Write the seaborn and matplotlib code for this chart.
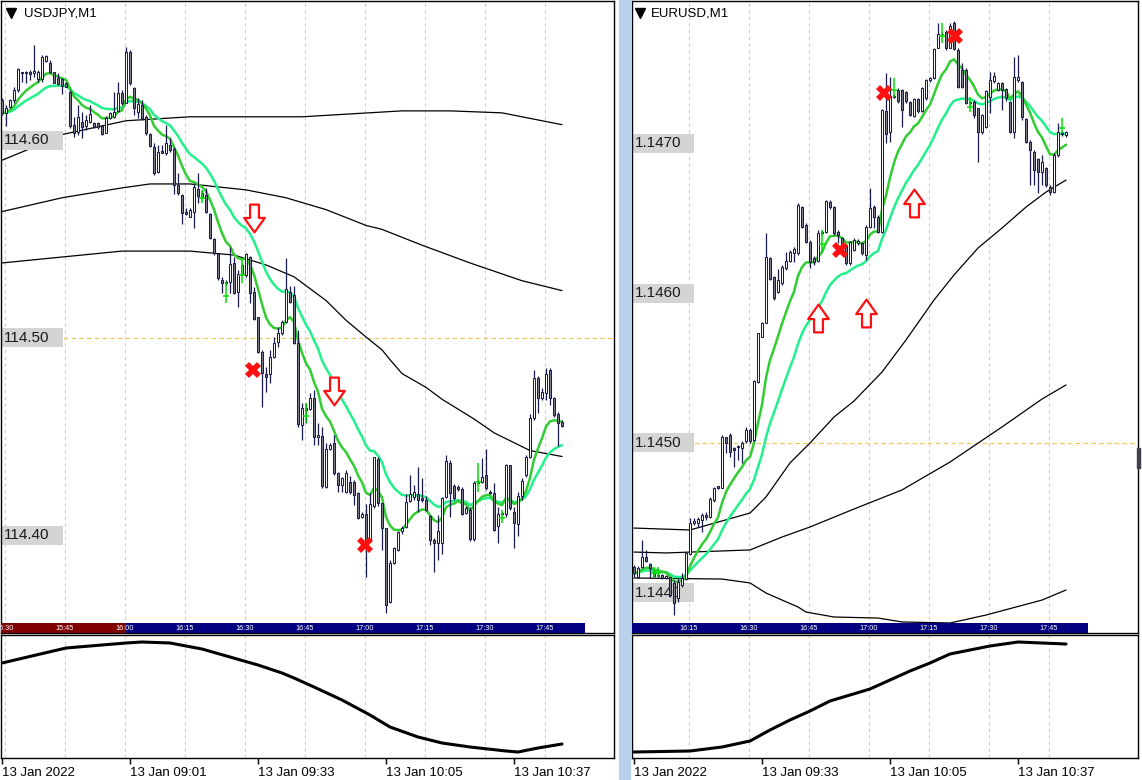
import numpy as np
import pandas as pd
import matplotlib
matplotlib.use("Agg")
import matplotlib.pyplot as plt
import matplotlib.transforms as mtransforms
from matplotlib.patches import Rectangle
from matplotlib.path import Path
import seaborn as sns

sns.set_style("white")
plt.rcParams["font.family"] = ["Liberation Sans", "DejaVu Sans"]

# =========================
# USDJPY M1 candles
# =========================
jpy_open = [114.6205, 114.6141, 114.6171, 114.6205, 114.6256, 114.6349, 114.6340, 114.6349, 114.6340, 114.6310,
            114.6310, 114.6404, 114.6391, 114.6349, 114.6315, 114.6310, 114.6293, 114.6247, 114.6079, 114.6045,
            114.6095, 114.6074, 114.6095, 114.6090, 114.6087, 114.6074, 114.6040, 114.6112, 114.6121, 114.6151,
            114.6242, 114.6192, 114.6450, 114.6264, 114.6146, 114.6180, 114.6117, 114.6033, 114.5969, 114.5842,
            114.5948, 114.5935, 114.5977, 114.5955, 114.5775, 114.5724, 114.5640, 114.5614, 114.5640, 114.5753,
            114.5733, 114.5724, 114.5628, 114.5500, 114.5425, 114.5294, 114.5280, 114.5285, 114.5381, 114.5235,
            114.5324, 114.5319, 114.5412, 114.5235, 114.5105, 114.4927, 114.4818, 114.4818, 114.4905, 114.4981,
            114.5027, 114.5083, 114.5235, 114.5218, 114.4976, 114.4559, 114.4644, 114.4639, 114.4694, 114.4497,
            114.4504, 114.4244, 114.4436, 114.4467, 114.4318, 114.4256, 114.4222, 114.4272, 114.4272, 114.4213,
            114.4095, 114.4109, 114.3980, 114.4149, 114.4386, 114.4163, 114.4036, 114.3665, 114.3859, 114.3926,
            114.4024, 114.4045, 114.4176, 114.4197, 114.4210, 114.4192, 114.4180, 114.4099, 114.3977, 114.3964,
            114.3964, 114.4196, 114.4365, 114.4250, 114.4247, 114.4234, 114.4116, 114.4129, 114.3980, 114.4267,
            114.4272, 114.4306, 114.4222, 114.4217, 114.4048, 114.4109, 114.4109, 114.4357, 114.4121, 114.4058,
            114.4200, 114.4306, 114.4396, 114.4593, 114.4796, 114.4694, 114.4723, 114.4838, 114.4694, 114.4615,
            114.4576]
jpy_high = [114.6214, 114.6180, 114.6209, 114.6273, 114.6366, 114.6349, 114.6354, 114.6357, 114.6484, 114.6357,
            114.6433, 114.6433, 114.6408, 114.6349, 114.6340, 114.6315, 114.6298, 114.6256, 114.6121, 114.6180,
            114.6146, 114.6129, 114.6180, 114.6095, 114.6095, 114.6079, 114.6124, 114.6146, 114.6247, 114.6298,
            114.6256, 114.6475, 114.6458, 114.6273, 114.6214, 114.6205, 114.6129, 114.6036, 114.5986, 114.5977,
            114.5977, 114.6079, 114.6011, 114.5969, 114.5834, 114.5729, 114.5656, 114.5656, 114.5783, 114.5834,
            114.5749, 114.5758, 114.5631, 114.5505, 114.5429, 114.5311, 114.5294, 114.5462, 114.5412, 114.5344,
            114.5378, 114.5429, 114.5415, 114.5260, 114.5108, 114.4939, 114.4855, 114.4939, 114.5007, 114.5057,
            114.5091, 114.5403, 114.5263, 114.5263, 114.5040, 114.4669, 114.4673, 114.4720, 114.4737, 114.4568,
            114.4551, 114.4467, 114.4467, 114.4509, 114.4323, 114.4298, 114.4332, 114.4300, 114.4281, 114.4222,
            114.4120, 114.4159, 114.4213, 114.4399, 114.4399, 114.4163, 114.4036, 114.3876, 114.3943, 114.4025,
            114.4050, 114.4210, 114.4306, 114.4256, 114.4348, 114.4289, 114.4200, 114.4104, 114.3986, 114.4104,
            114.4196, 114.4408, 114.4382, 114.4260, 114.4255, 114.4245, 114.4150, 114.4145, 114.4275, 114.4285,
            114.4391, 114.4436, 114.4230, 114.4264, 114.4146, 114.4120, 114.4362, 114.4357, 114.4146, 114.4222,
            114.4289, 114.4408, 114.4615, 114.4838, 114.4808, 114.4745, 114.4846, 114.4846, 114.4699, 114.4627,
            114.4585]
jpy_low = [114.6129, 114.6074, 114.6163, 114.6188, 114.6247, 114.6298, 114.6293, 114.6306, 114.6323, 114.6298,
           114.6298, 114.6399, 114.6340, 114.6290, 114.6281, 114.6236, 114.6269, 114.6062, 114.6019, 114.6028,
           114.6011, 114.6053, 114.6087, 114.6062, 114.6057, 114.6028, 114.6036, 114.6107, 114.6112, 114.6146,
           114.6180, 114.6188, 114.6281, 114.6129, 114.6112, 114.6104, 114.6028, 114.5969, 114.5825, 114.5834,
           114.5935, 114.5927, 114.5943, 114.5729, 114.5724, 114.5577, 114.5623, 114.5611, 114.5555, 114.5682,
           114.5705, 114.5631, 114.5500, 114.5420, 114.5294, 114.5226, 114.5270, 114.5226, 114.5223, 114.5159,
           114.5315, 114.5311, 114.5176, 114.5091, 114.4922, 114.4652, 114.4728, 114.4770, 114.4897, 114.4956,
           114.5015, 114.5074, 114.5176, 114.4970, 114.4551, 114.4483, 114.4571, 114.4635, 114.4458, 114.4458,
           114.4239, 114.4239, 114.4433, 114.4306, 114.4222, 114.4222, 114.4213, 114.4210, 114.4154, 114.4082,
           114.4090, 114.3788, 114.3977, 114.4137, 114.4150, 114.3926, 114.3606, 114.3656, 114.3856, 114.3920,
           114.4010, 114.4040, 114.4171, 114.4180, 114.4121, 114.4171, 114.4125, 114.3952, 114.3817, 114.3876,
           114.3906, 114.4188, 114.4095, 114.4180, 114.4225, 114.4104, 114.4110, 114.3970, 114.3970, 114.4260,
           114.4267, 114.4230, 114.4210, 114.4024, 114.3964, 114.4104, 114.4095, 114.4129, 114.3935, 114.3997,
           114.4180, 114.4298, 114.4391, 114.4585, 114.4619, 114.4686, 114.4686, 114.4661, 114.4602, 114.4453,
           114.4548]
jpy_close = [114.6138, 114.6163, 114.6205, 114.6256, 114.6360, 114.6340, 114.6349, 114.6335, 114.6352, 114.6349,
             114.6425, 114.6428, 114.6349, 114.6293, 114.6285, 114.6276, 114.6273, 114.6074, 114.6036, 114.6121,
             114.6067, 114.6104, 114.6134, 114.6070, 114.6067, 114.6033, 114.6112, 114.6141, 114.6146, 114.6242,
             114.6188, 114.6450, 114.6290, 114.6163, 114.6185, 114.6112, 114.6036, 114.5972, 114.5837, 114.5943,
             114.5938, 114.5986, 114.5952, 114.5775, 114.5733, 114.5635, 114.5628, 114.5648, 114.5766, 114.5721,
             114.5716, 114.5640, 114.5505, 114.5429, 114.5302, 114.5280, 114.5285, 114.5375, 114.5226, 114.5324,
             114.5370, 114.5424, 114.5226, 114.5094, 114.4927, 114.4821, 114.4804, 114.4905, 114.4976, 114.5027,
             114.5083, 114.5246, 114.5184, 114.4973, 114.4564, 114.4644, 114.4635, 114.4694, 114.4497, 114.4509,
             114.4250, 114.4436, 114.4458, 114.4315, 114.4256, 114.4293, 114.4315, 114.4222, 114.4205, 114.4087,
             114.4109, 114.3977, 114.4159, 114.4396, 114.4166, 114.4036, 114.3648, 114.3859, 114.3935, 114.4019,
             114.4036, 114.4171, 114.4210, 114.4218, 114.4180, 114.4180, 114.4129, 114.3977, 114.3964, 114.4024,
             114.4188, 114.4379, 114.4213, 114.4188, 114.4234, 114.4109, 114.4141, 114.3980, 114.4267, 114.4272,
             114.4298, 114.4239, 114.4213, 114.4028, 114.4109, 114.4116, 114.4357, 114.4137, 114.4065, 114.4200,
             114.4278, 114.4396, 114.4593, 114.4796, 114.4694, 114.4728, 114.4818, 114.4694, 114.4610, 114.4568,
             114.4554]

# long averages on USDJPY (black lines), sampled along the chart
jpy_band_a_idx = [0, 6, 15, 31, 47, 75, 100, 112, 125, 140]
jpy_band_a = [114.590, 114.595, 114.603, 114.610, 114.612, 114.612, 114.615, 114.615, 114.614, 114.608]
jpy_band_b_idx = [0, 15, 30, 37, 47, 61, 71, 81, 91, 95, 105, 117, 130, 140]
jpy_band_b = [114.564, 114.571, 114.576, 114.578, 114.578, 114.575, 114.571, 114.565, 114.557, 114.555,
              114.547, 114.538, 114.529, 114.524]
jpy_band_c_idx = [0, 15, 30, 47, 58, 66, 73, 81, 86, 91, 95, 97, 100, 106, 110, 118, 123, 128, 132, 140]
jpy_band_c = [114.538, 114.541, 114.544, 114.544, 114.542, 114.537, 114.531, 114.519, 114.509, 114.5005,
              114.494, 114.489, 114.482, 114.475, 114.469, 114.459, 114.452, 114.447, 114.443, 114.440]

jpy_osc_idx = [0, 16, 31, 35, 42, 50, 57, 64, 70, 73, 78, 85, 92, 97, 104, 110, 117, 126, 129, 134, 140]
jpy_osc = [94, 109, 114, 115, 114, 108, 100, 92, 84, 79, 70, 57, 42, 30, 20, 14, 10, 6, 5, 9, 13]

jpy_sell_idx = [63, 83]
jpy_sell_px = [114.561, 114.473]
jpy_exit_idx = [62.75, 90.75]
jpy_exit_px = [114.4838, 114.3952]
jpy_tick_idx = [50, 56, 60, 76, 119, 125]
jpy_tick_lo = [114.5684, 114.5177, 114.5278, 114.4570, 114.4220, 114.4063]
jpy_tick_hi = [114.5749, 114.5284, 114.5395, 114.4671, 114.4367, 114.4129]

jpy_levels = [114.60, 114.50, 114.40]
jpy_bar_labels = ["15:30", "15:45", "16:00", "16:15", "16:30", "16:45", "17:00", "17:15", "17:30", "17:45"]
jpy_date_labels = ["13 Jan 2022", "13 Jan 09:01", "13 Jan 09:33", "13 Jan 10:05", "13 Jan 10:37"]

# =========================
# EURUSD M1 candles
# =========================
eur_open = [1.144176, 1.144109, 1.144176, 1.144243, 1.144194, 1.144131, 1.144114, 1.144120, 1.144098, 1.144109,
            1.144065, 1.143965, 1.144054, 1.144092, 1.144260, 1.144465, 1.144465, 1.144487, 1.144520, 1.144509,
            1.144620, 1.144714, 1.144703, 1.145043, 1.145054, 1.144965, 1.144972, 1.144965, 1.145010, 1.145087,
            1.145020, 1.145409, 1.145709, 1.145803, 1.146231, 1.146105, 1.146009, 1.146065, 1.146165, 1.146216,
            1.146265, 1.146265, 1.146576, 1.146454, 1.146343, 1.146231, 1.146216, 1.146403, 1.146409, 1.146609,
            1.146576, 1.146409, 1.146365, 1.146320, 1.146198, 1.146286, 1.146331, 1.146331, 1.146253, 1.146442,
            1.146575, 1.146509, 1.146409, 1.147213, 1.147071, 1.147315, 1.147353, 1.147353, 1.147337, 1.147271,
            1.147182, 1.147293, 1.147213, 1.147298, 1.147420, 1.147431, 1.147635, 1.147724, 1.147742, 1.147635,
            1.147797, 1.147620, 1.147486, 1.147486, 1.147264, 1.147271, 1.147231, 1.147071, 1.147109, 1.147309,
            1.147413, 1.147353, 1.147397, 1.147360, 1.147271, 1.147071, 1.147420, 1.147409, 1.147160, 1.147009,
            1.146942, 1.146893, 1.146809, 1.146831, 1.146709, 1.146675, 1.146920, 1.147070, 1.147053]
eur_high = [1.144187, 1.144180, 1.144354, 1.144287, 1.144198, 1.144150, 1.144130, 1.144125, 1.144120, 1.144109,
            1.144087, 1.144098, 1.144131, 1.144265, 1.144498, 1.144498, 1.144509, 1.144531, 1.144543, 1.144643,
            1.144709, 1.144714, 1.145054, 1.145043, 1.145065, 1.144976, 1.144987, 1.145010, 1.145105, 1.145098,
            1.145420, 1.145736, 1.145809, 1.146403, 1.146243, 1.146114, 1.146158, 1.146187, 1.146276, 1.146287,
            1.146309, 1.146598, 1.146580, 1.146465, 1.146354, 1.146247, 1.146420, 1.146420, 1.146620, 1.146620,
            1.146580, 1.146420, 1.146376, 1.146330, 1.146350, 1.146365, 1.146360, 1.146340, 1.146453, 1.146698,
            1.146586, 1.146520, 1.147230, 1.147464, 1.147442, 1.147330, 1.147364, 1.147360, 1.147346, 1.147280,
            1.147300, 1.147300, 1.147375, 1.147430, 1.147440, 1.147635, 1.147797, 1.147740, 1.147753, 1.147797,
            1.147813, 1.147631, 1.147531, 1.147497, 1.147280, 1.147286, 1.147235, 1.147191, 1.147353, 1.147475,
            1.147475, 1.147409, 1.147409, 1.147364, 1.147280, 1.147575, 1.147586, 1.147413, 1.147169, 1.147020,
            1.146953, 1.146902, 1.146920, 1.146842, 1.146720, 1.146931, 1.147131, 1.147080, 1.147080]
eur_low = [1.144109, 1.144100, 1.144165, 1.144209, 1.144098, 1.144105, 1.144105, 1.144095, 1.144095, 1.143976,
           1.143854, 1.143943, 1.144043, 1.144087, 1.144254, 1.144454, 1.144438, 1.144409, 1.144487, 1.144498,
           1.144609, 1.144695, 1.144698, 1.144932, 1.144909, 1.144843, 1.144887, 1.144865, 1.145003, 1.144998,
           1.145016, 1.145403, 1.145705, 1.145798, 1.146087, 1.145954, 1.145998, 1.146054, 1.146154, 1.146209,
           1.146209, 1.146254, 1.146431, 1.146336, 1.146165, 1.146187, 1.146209, 1.146390, 1.146398, 1.146560,
           1.146390, 1.146336, 1.146290, 1.146190, 1.146190, 1.146280, 1.146320, 1.146255, 1.146220, 1.146431,
           1.146431, 1.146400, 1.146400, 1.146998, 1.147004, 1.147300, 1.147270, 1.147109, 1.147270, 1.147182,
           1.147175, 1.147200, 1.147209, 1.147290, 1.147410, 1.147426, 1.147631, 1.147710, 1.147620, 1.147631,
           1.147620, 1.147364, 1.147369, 1.147257, 1.147250, 1.147164, 1.146875, 1.147058, 1.147102, 1.147198,
           1.147397, 1.147350, 1.147220, 1.147280, 1.147064, 1.147031, 1.147409, 1.147153, 1.146998, 1.146720,
           1.146720, 1.146664, 1.146720, 1.146709, 1.146653, 1.146664, 1.146909, 1.147050, 1.147040]
eur_close = [1.144131, 1.144169, 1.144243, 1.144216, 1.144165, 1.144114, 1.144120, 1.144098, 1.144116, 1.143987,
             1.143932, 1.144076, 1.144098, 1.144265, 1.144469, 1.144483, 1.144492, 1.144520, 1.144509, 1.144625,
             1.144703, 1.144698, 1.145038, 1.144998, 1.144943, 1.144954, 1.144980, 1.145003, 1.145087, 1.145010,
             1.145416, 1.145731, 1.145803, 1.146243, 1.146091, 1.145965, 1.146087, 1.146171, 1.146216, 1.146276,
             1.146291, 1.146587, 1.146438, 1.146343, 1.146209, 1.146209, 1.146403, 1.146410, 1.146616, 1.146571,
             1.146398, 1.146387, 1.146298, 1.146198, 1.146342, 1.146353, 1.146346, 1.146264, 1.146442, 1.146569,
             1.146509, 1.146409, 1.147220, 1.147058, 1.147315, 1.147309, 1.147280, 1.147220, 1.147280, 1.147186,
             1.147293, 1.147213, 1.147369, 1.147420, 1.147431, 1.147626, 1.147724, 1.147730, 1.147635, 1.147782,
             1.147626, 1.147375, 1.147375, 1.147264, 1.147271, 1.147186, 1.147071, 1.147186, 1.147346, 1.147420,
             1.147449, 1.147397, 1.147353, 1.147298, 1.147071, 1.147442, 1.147442, 1.147175, 1.147009, 1.146953,
             1.146820, 1.146804, 1.146875, 1.146720, 1.146675, 1.146920, 1.147071, 1.147060, 1.147071]

eur_band_a_idx = [0, 14, 29, 33, 39, 44, 50, 55, 62, 68, 75, 80, 86, 92, 98, 103, 108]
eur_band_a = [1.144433, 1.144420, 1.144533, 1.144640, 1.144867, 1.145000, 1.145173, 1.145280, 1.145473,
              1.145687, 1.145953, 1.146120, 1.146300, 1.146433, 1.146573, 1.146673, 1.146753]
eur_band_b_idx = [0, 8, 29, 37, 44, 55, 67, 79, 92, 102, 108]
eur_band_b = [1.144273, 1.144267, 1.144287, 1.144373, 1.144440, 1.144560, 1.144687, 1.144873, 1.145107,
              1.145293, 1.145387]
eur_band_c_idx = [0, 22, 29, 33, 37, 41, 43, 50, 61, 67, 79, 88, 102, 108]
eur_band_c = [1.144100, 1.144093, 1.144067, 1.144000, 1.143953, 1.143907, 1.143873, 1.143840, 1.143833,
              1.143807, 1.143800, 1.143853, 1.143953, 1.144020]

eur_osc_idx = [0, 14, 22, 29, 34, 39, 44, 49, 54, 59, 64, 69, 74, 79, 89, 96, 102, 108]
eur_osc = [5, 6, 10, 16, 27, 37, 46, 56, 62, 68, 77, 86, 94, 103, 111, 115, 114, 113]

eur_buy_idx = [46, 58, 70]
eur_buy_px = [1.145833, 1.145867, 1.146600]
eur_exit_idx = [51.5, 62.5, 80.25]
eur_exit_px = [1.146287, 1.147333, 1.147713]
eur_tick_idx = [5, 6, 47, 65, 77, 84, 107]
eur_tick_lo = [1.144107, 1.144107, 1.146273, 1.147307, 1.147667, 1.147207, 1.147067]
eur_tick_hi = [1.144173, 1.144173, 1.146420, 1.147433, 1.147800, 1.147307, 1.147167]

eur_levels = [1.1470, 1.1460, 1.1450, 1.1440]
eur_bar_labels = ["16:15", "16:30", "16:45", "17:00", "17:15", "17:30", "17:45"]
eur_date_labels = ["13 Jan 2022", "13 Jan 09:33", "13 Jan 10:05", "13 Jan 10:37"]

# =========================
# STYLE
# =========================
EDGE = "#1a1a4c"
BEAR = "#80808e"
GRID = "#cacae4"
FAST = "#32cd32"
SLOW = "#22f08a"
NAVY = "#000080"
MAROON = "#800000"

W, H = 1142, 780
fig = plt.figure(figsize=(W / 100, H / 100), dpi=100)
fig.patch.set_facecolor("white")


def px_axes(x0, y0, x1, y1):
    return fig.add_axes([x0 / W, 1 - y1 / H, (x1 - x0) / W, (y1 - y0) / H])


def frame(ax):
    ax.set_xticks([])
    ax.set_yticks([])
    for s in ax.spines.values():
        s.set_color("black")
        s.set_linewidth(1.0)
    ax.set_facecolor("white")


def draw_candles(ax, o, h, l, c, min_body):
    o, h, l, c = map(np.asarray, (o, h, l, c))
    x = np.arange(len(o))
    ax.vlines(x, l, h, color=EDGE, lw=0.9, zorder=4)
    bottom = np.minimum(o, c)
    height = np.maximum(np.abs(c - o), min_body)
    colors = np.where(c >= o, "white", BEAR)
    ax.bar(x, height, bottom=bottom, width=0.58, color=colors, edgecolor=EDGE,
           linewidth=0.75, zorder=5)


def draw_timebar(ax, segments, label_pos, labels):
    tr = mtransforms.blended_transform_factory(ax.transData, ax.transAxes)
    hh = 10 / 632
    for x0, x1, col in segments:
        ax.add_patch(Rectangle((x0, 0), x1 - x0, hh, transform=tr, color=col, zorder=8, lw=0))
    for x, t in zip(label_pos, labels):
        ax.text(x, hh / 2, t, transform=tr, color="white", fontsize=5.3, ha="center",
                va="center", zorder=9, clip_on=True)


def price_labels(ax, levels, fmt, dpp):
    tr = mtransforms.blended_transform_factory(ax.transAxes, ax.transData)
    wfrac = 62 / (ax.get_position().width * W)
    xoff = 3 / (ax.get_position().width * W)
    for lv in levels:
        ax.add_patch(Rectangle((0, lv - 9.5 * dpp), wfrac, 19 * dpp, transform=tr,
                               color="#d4d4d4", lw=0, zorder=2))
        ax.text(xoff, lv, fmt.format(lv), transform=tr, fontsize=11, color="#1a1a1a",
                va="center", ha="left", zorder=2.5)


def panel(ax, sub, o, h, l, c, xlim, ylim, title, bands, levels, fmt, mid_level,
          grid_pos, segments, bar_pos, bar_labels, arrows_idx, arrows_px, arrow_marker,
          exit_idx, exit_px, tick_idx, tick_lo, tick_hi, osc_idx, osc, date_pos, date_labels):
    frame(ax)
    frame(sub)
    dpp = (ylim[1] - ylim[0]) / 632

    for g in grid_pos:
        ax.axvline(g, color=GRID, lw=0.8, ls=(0, (3, 3)), zorder=0)
        sub.axvline(g, color=GRID, lw=0.8, ls=(0, (3, 3)), zorder=0)
    ax.axhline(mid_level, color="#f0c850", lw=0.8, ls=(0, (4, 3)), zorder=0.5)

    for bx, by in bands:
        sns.lineplot(x=bx, y=by, ax=ax, color="black", linewidth=0.9, zorder=1)

    price_labels(ax, levels, fmt, dpp)

    close = pd.Series(c)
    idx = np.arange(len(c))
    sns.lineplot(x=idx, y=close.ewm(span=22, adjust=False).mean().values, ax=ax,
                 color=SLOW, linewidth=1.8, zorder=3)
    sns.lineplot(x=idx, y=close.ewm(span=10, adjust=False).mean().values, ax=ax,
                 color=FAST, linewidth=1.8, zorder=3.2)

    draw_candles(ax, o, h, l, c, 0.9 * dpp)

    ax.vlines(tick_idx, tick_lo, tick_hi, color="#00e000", lw=1.1, zorder=6)
    ax.plot(tick_idx, np.array(tick_lo) + 0.35 * (np.array(tick_hi) - np.array(tick_lo)),
            ls="none", marker="_", ms=4, mew=1.1, color="#00e000", zorder=6)

    ax.plot(arrows_idx, arrows_px, ls="none", marker=arrow_marker, ms=20, mfc="white",
            mec="#ff1010", mew=1.6, zorder=7)
    ax.plot(exit_idx, exit_px, ls="none", marker="X", ms=12, color="#ff1010", mew=0, zorder=7)

    draw_timebar(ax, segments, bar_pos, bar_labels)

    ax.plot([10 / 613], [1 - 12 / 632], marker="v", ms=7, color="black",
            transform=ax.transAxes, clip_on=False, zorder=10)
    ax.text(23 / 613, 1 - 12 / 632, title, transform=ax.transAxes, fontsize=9.5,
            va="center", ha="left", color="black", zorder=10)

    ax.set_xlim(*xlim)
    ax.set_ylim(*ylim)
    ax.set(xlabel="", ylabel="")

    sns.lineplot(x=osc_idx, y=osc, ax=sub, color="black", linewidth=2.2)
    sub.set_xlim(*xlim)
    sub.set_ylim(-1, 122)
    sub.set(xlabel="", ylabel="")
    sub.set_yticks([])
    sub.set_xticks(date_pos)
    sub.set_xticklabels(date_labels, ha="left", fontsize=9.5)
    sub.tick_params(axis="x", bottom=True, direction="out", length=4, width=1,
                    pad=2.5, colors="black")


down_arrow = Path([(-0.16, 0.5), (0.16, 0.5), (0.16, 0.02), (0.37, 0.02), (0.0, -0.5),
                   (-0.37, 0.02), (-0.16, 0.02), (-0.16, 0.5)], closed=True)
up_arrow = Path([(x, -y) for x, y in down_arrow.vertices], closed=True)

# =========================
# LEFT: USDJPY
# =========================
ax_l = px_axes(1, 1, 614, 633)
sub_l = px_axes(1, 635, 614, 758)
panel(ax_l, sub_l, jpy_open, jpy_high, jpy_low, jpy_close,
      xlim=(-0.25, 153), ylim=(114.35063, 114.67063), title="USDJPY,M1",
      bands=[(jpy_band_a_idx, jpy_band_a), (jpy_band_b_idx, jpy_band_b), (jpy_band_c_idx, jpy_band_c)],
      levels=jpy_levels, fmt="{:.2f}", mid_level=114.50,
      grid_pos=[0.75 + 15 * k for k in range(10)],
      segments=[(-0.5, 31, MAROON), (31, 145.75, NAVY)],
      bar_pos=[0.75 + 15 * k for k in range(10)], bar_labels=jpy_bar_labels,
      arrows_idx=jpy_sell_idx, arrows_px=jpy_sell_px, arrow_marker=down_arrow,
      exit_idx=jpy_exit_idx, exit_px=jpy_exit_px,
      tick_idx=jpy_tick_idx, tick_lo=jpy_tick_lo, tick_hi=jpy_tick_hi,
      osc_idx=jpy_osc_idx, osc=jpy_osc,
      date_pos=[0, 32, 64, 96, 128], date_labels=jpy_date_labels)

# =========================
# RIGHT: EURUSD
# =========================
ax_r = px_axes(632, 1, 1138, 633)
sub_r = px_axes(632, 635, 1138, 758)
panel(ax_r, sub_r, eur_open, eur_high, eur_low, eur_close,
      xlim=(-0.5, 126), ylim=(1.1437333, 1.1479467), title="EURUSD,M1",
      bands=[(eur_band_a_idx, eur_band_a), (eur_band_b_idx, eur_band_b), (eur_band_c_idx, eur_band_c)],
      levels=eur_levels, fmt="{:.4f}", mid_level=1.1450,
      grid_pos=[13.75 + 15 * k for k in range(7)],
      segments=[(-0.5, 113.5, NAVY)],
      bar_pos=[13.75 + 15 * k for k in range(7)], bar_labels=eur_bar_labels,
      arrows_idx=eur_buy_idx, arrows_px=eur_buy_px, arrow_marker=up_arrow,
      exit_idx=eur_exit_idx, exit_px=eur_exit_px,
      tick_idx=eur_tick_idx, tick_lo=eur_tick_lo, tick_hi=eur_tick_hi,
      osc_idx=eur_osc_idx, osc=eur_osc,
      date_pos=[0, 32, 64, 96], date_labels=eur_date_labels)

# window separator and scroll marker
fig.patches.append(Rectangle((619 / W, 0), 11 / W, 1, transform=fig.transFigure,
                             color="#b9d1ea", zorder=0))
fig.patches.append(Rectangle((1137 / W, 1 - 468 / H), 3 / W, 20 / H, transform=fig.transFigure,
                             color="#404050", zorder=0))

fig.savefig("out.png", dpi=100, facecolor="white")
